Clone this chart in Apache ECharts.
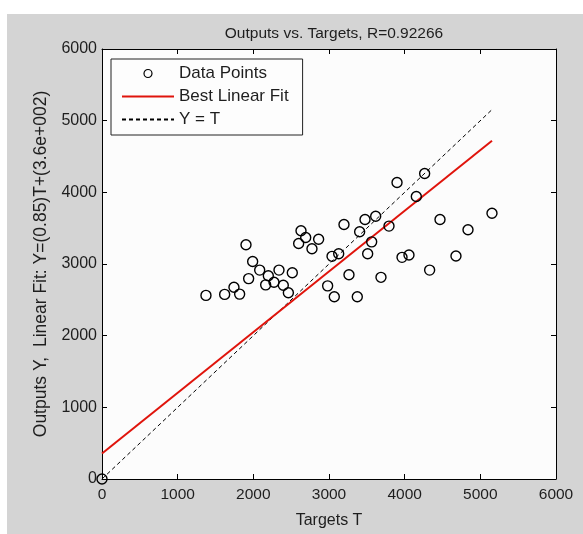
<!DOCTYPE html>
<html>
<head>
<meta charset="utf-8">
<script src="https://cdn.jsdelivr.net/npm/echarts@6/dist/echarts.min.js"></script>
<style>
  body { margin: 0; background: #ffffff; }
  #main { position: absolute; left: 7px; top: 14px; width: 576px; height: 520px; }
</style>
</head>
<body>
<div id="main"></div>
<script>
// data
var targets = [0, 1374, 1621, 1744, 1819, 1903, 1938, 1991, 2084, 2163, 2198, 2273, 2339, 2396, 2463,
    2515, 2599, 2630, 2692, 2775, 2863, 2982, 3040, 3070, 3128, 3198, 3264, 3374, 3405, 3476,
    3511, 3564, 3617, 3687, 3793, 3899, 3965, 4057, 4154, 4264, 4330, 4467, 4678, 4837, 5154];
var outputs = [0, 2562, 2576, 2676, 2580, 3268, 2796, 3034, 2915, 2709, 2837, 2745, 2915, 2704, 2599,
    2878, 3286, 3465, 3369, 3213, 3346, 2695, 3107, 2544, 3144, 3552, 2851, 2544, 3451, 3621,
    3144, 3309, 3666, 2814, 3529, 4138, 3093, 3126, 3941, 4262, 2915, 3621, 3112, 3478, 3708];
var fitX = [0, 5154];
var fitY = [355, 4720];
var identX = [0, 5154];
var identY = [0, 5154];

var points = targets.map(function (t, i) { return [t, outputs[i]]; });
var fitLine = fitX.map(function (x, i) { return [x, fitY[i]]; });
var identLine = identX.map(function (x, i) { return [x, identY[i]]; });

var myChart = echarts.init(document.getElementById('main'));
var font = 'Liberation Sans';
var ink = '#1e1e1e';
var plain = function (v) { return String(v); };

var axisBase = {
    type: 'value',
    min: 0,
    max: 6000,
    interval: 1000,
    axisLine: { show: true, onZero: false, lineStyle: { color: '#000', width: 1 } },
    axisTick: { show: true, inside: true, length: 5, lineStyle: { color: '#000' } },
    splitLine: { show: false }
};

var option = {
    backgroundColor: '#d4d4d4',
    animation: false,
    title: {
        text: 'Outputs vs. Targets, R=0.92266',
        left: 322,
        top: 7,
        textAlign: 'center',
        textStyle: { fontFamily: font, fontSize: 15.5, fontWeight: 'normal', color: ink }
    },
    legend: {
        orient: 'vertical',
        left: 104,
        top: 45,
        itemWidth: 52,
        itemHeight: 8,
        itemGap: 6,
        padding: [6, 14, 7, 10],
        backgroundColor: '#fdfdfd',
        borderColor: '#222',
        borderWidth: 1,
        borderRadius: 0,
        textStyle: { fontFamily: font, fontSize: 17, color: ink },
        data: [
            { name: 'Data Points', itemStyle: { borderWidth: 1.2 } },
            { name: 'Best Linear Fit', itemStyle: { opacity: 0 } },
            { name: 'Y = T', itemStyle: { opacity: 0 } }
        ]
    },
    grid: {
        left: 95,
        top: 35,
        width: 454,
        height: 437,
        show: true,
        backgroundColor: '#fcfcfc',
        borderWidth: 0
    },
    xAxis: [
        Object.assign({}, axisBase, {
            position: 'bottom',
            name: 'Targets T',
            nameLocation: 'middle',
            nameGap: 34,
            nameTextStyle: { fontFamily: font, fontSize: 16, color: ink },
            axisLabel: { fontFamily: font, fontSize: 15.5, color: ink, margin: 8, formatter: plain }
        }),
        Object.assign({}, axisBase, { position: 'top', axisLabel: { show: false } })
    ],
    yAxis: [
        Object.assign({}, axisBase, {
            position: 'left',
            name: 'Outputs Y,  Linear Fit: Y=(0.85)T+(3.6e+002)',
            nameLocation: 'middle',
            nameGap: 52,
            nameTextStyle: { fontFamily: font, fontSize: 17.5, color: ink },
            axisLabel: { fontFamily: font, fontSize: 16, color: ink, margin: 5, formatter: plain }
        }),
        Object.assign({}, axisBase, { position: 'right', axisLabel: { show: false } })
    ],
    series: [
        {
            name: 'Y = T',
            type: 'line',
            data: identLine,
            symbol: 'none',
            lineStyle: { color: '#000', width: 1, type: [4, 3] },
            itemStyle: { color: '#000' },
            z: 2
        },
        {
            name: 'Best Linear Fit',
            type: 'line',
            data: fitLine,
            symbol: 'none',
            lineStyle: { color: '#e0140c', width: 2 },
            itemStyle: { color: '#e0140c' },
            z: 3
        },
        {
            name: 'Data Points',
            type: 'scatter',
            data: points,
            symbol: 'circle',
            symbolSize: 10,
            itemStyle: { color: 'rgba(0,0,0,0)', borderColor: '#000', borderWidth: 1.4, opacity: 1 },
            z: 4
        }
    ]
};

myChart.setOption(option);
</script>
</body>
</html>
